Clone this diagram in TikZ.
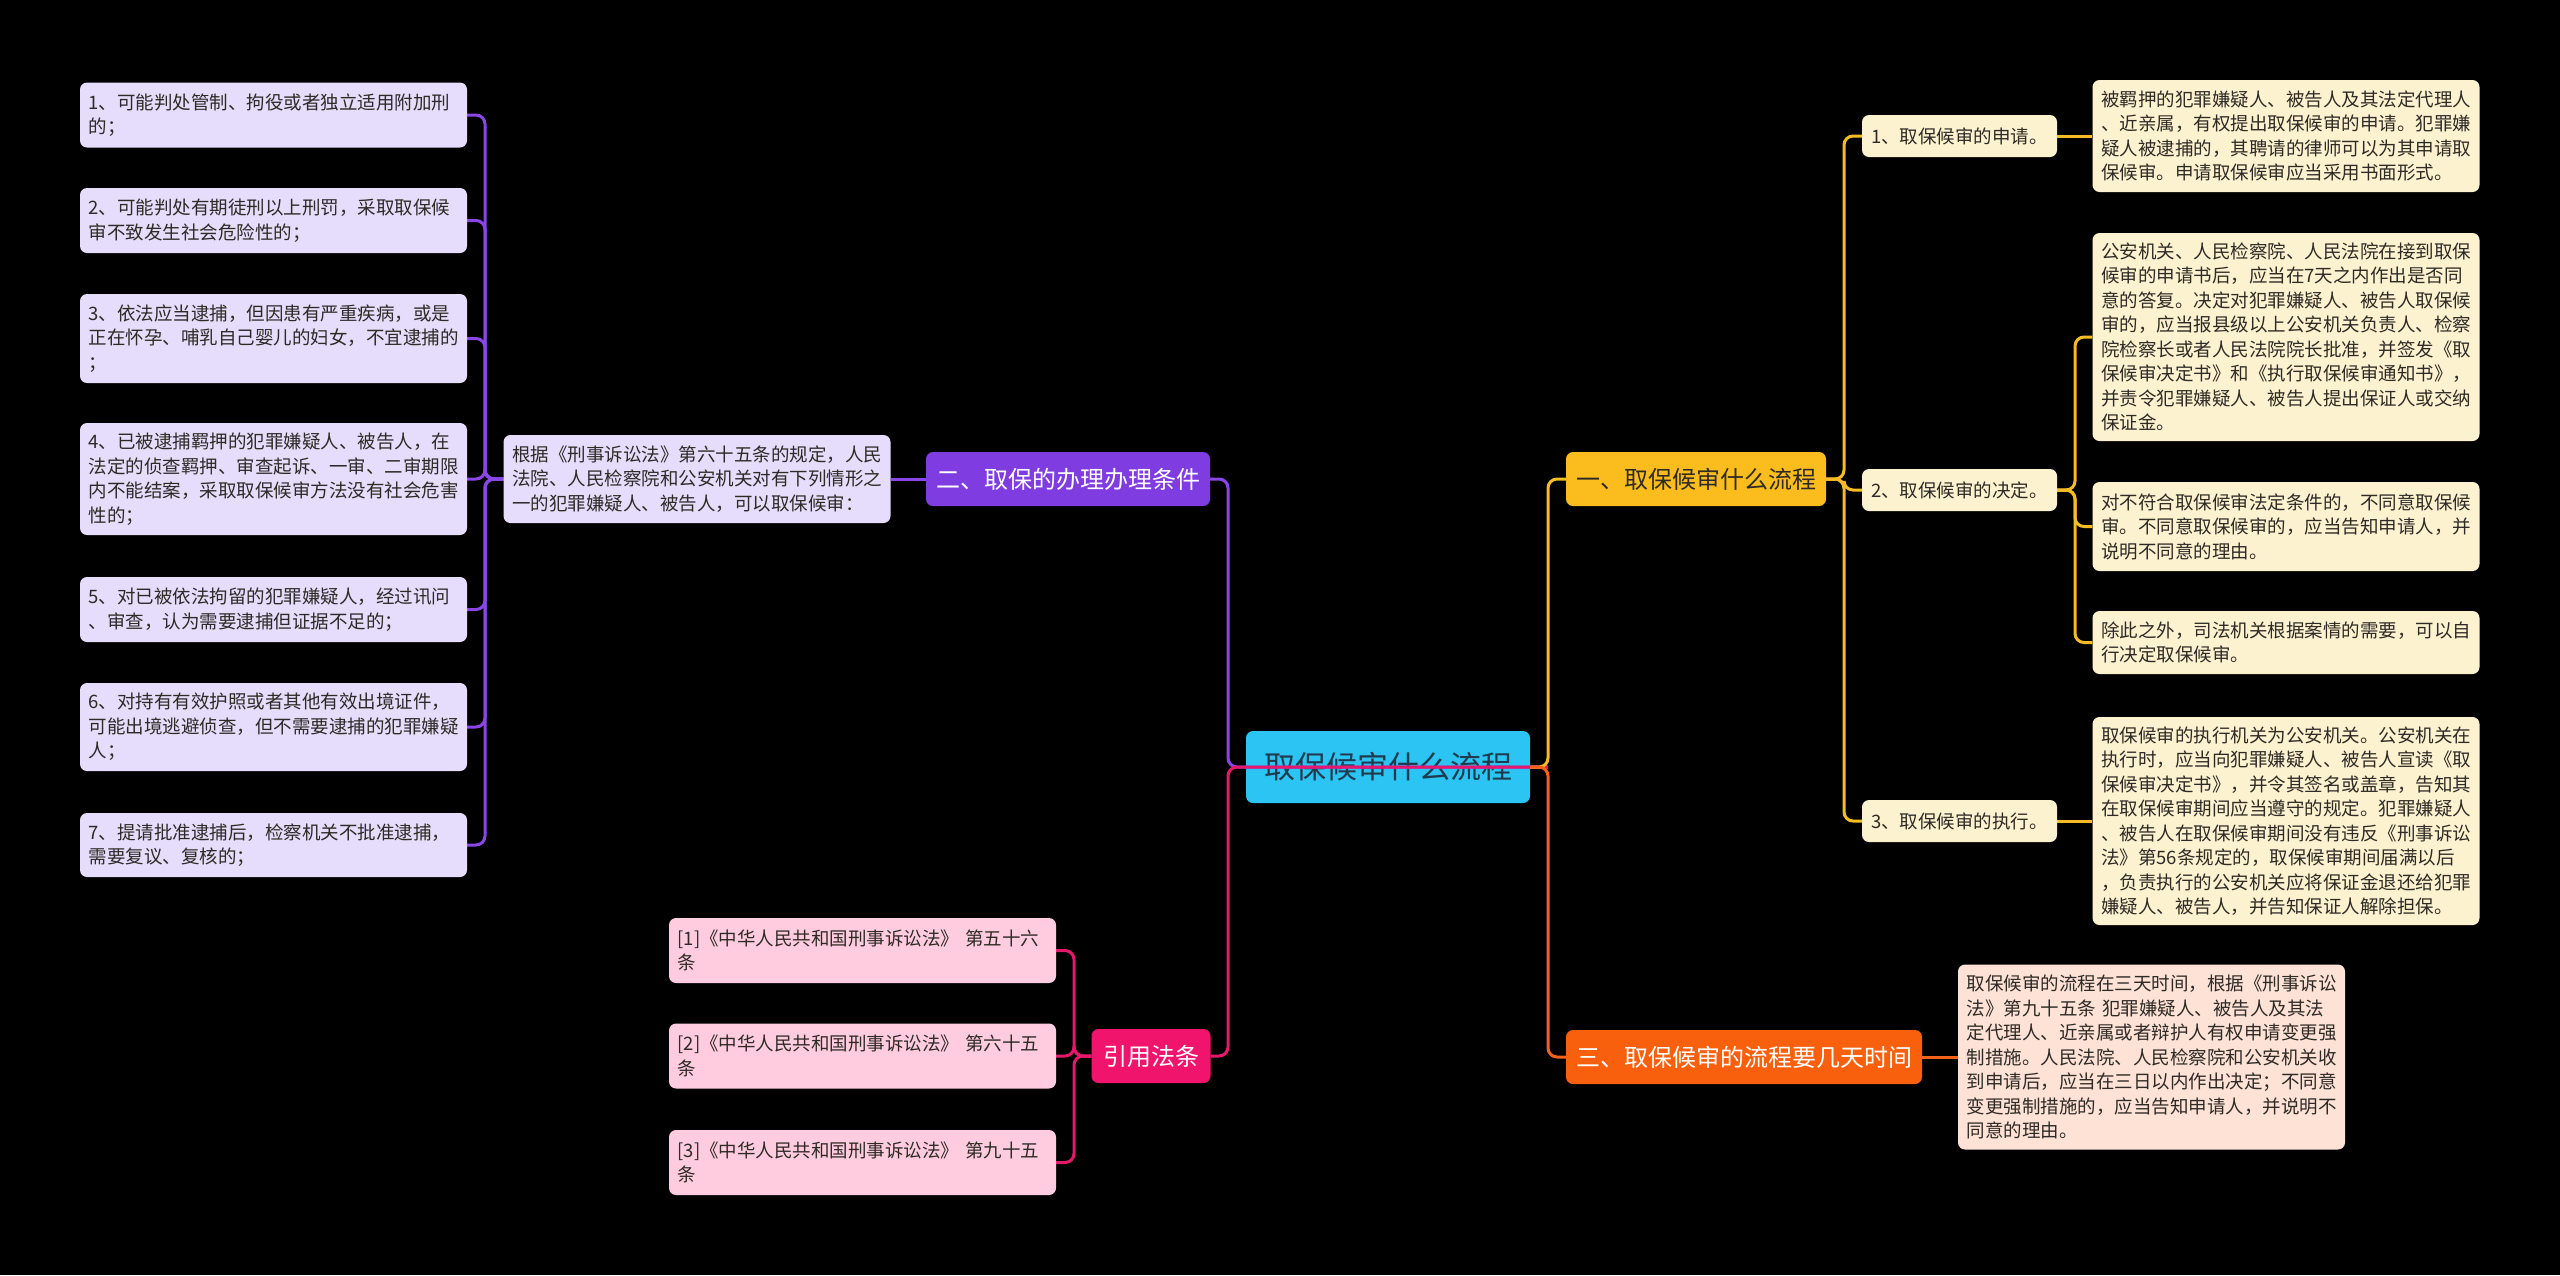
\documentclass[tikz,border=0pt]{standalone}
\usepackage{fontspec}
\setmainfont{Noto Sans CJK SC}
\pgfdeclarelayer{back}
\pgfdeclarelayer{mid}
\pgfsetlayers{back,mid,main}
\definecolor{cRoot}{HTML}{2BC4F3}
\definecolor{cRootT}{HTML}{1F3B4D}
\definecolor{cY}{HTML}{FBBD1E}
\definecolor{cYl}{HTML}{F6BC25}
\definecolor{cP}{HTML}{7F3CE0}
\definecolor{cPl}{HTML}{8A46E6}
\definecolor{cO}{HTML}{F9600E}
\definecolor{cOl}{HTML}{F2621A}
\definecolor{cM}{HTML}{F0146C}
\definecolor{cMl}{HTML}{E5186C}
\definecolor{fLav}{HTML}{E6DCFB}
\definecolor{fCream}{HTML}{FDF2CF}
\definecolor{fPeach}{HTML}{FDE2D5}
\definecolor{fPink}{HTML}{FFCCDF}
\definecolor{tDark}{HTML}{2E2A26}
\begin{document}
\begin{tikzpicture}[x=1pt,y=-1pt,
  conn/.style={line width=3pt, rounded corners=9pt},
  rootbox/.style={fill=cRoot, text=cRootT, rounded corners=7pt, minimum width=284pt, minimum height=72pt, inner sep=0pt, font=\fontsize{31}{36}\selectfont},
  topic/.style={rounded corners=7pt, minimum height=54pt, inner sep=0pt, font=\fontsize{24}{28}\selectfont},
  sub/.style={fill=fCream, text=tDark, rounded corners=7pt, minimum width=195pt, minimum height=42pt, inner sep=0pt, font=\fontsize{18.5}{24.5}\selectfont},
  leaf/.style={text=tDark, rounded corners=7pt, text width=370pt, align=left, inner xsep=8.5pt, inner ysep=0pt, font=\fontsize{18.5}{24.5}\selectfont}
]
\begin{pgfonlayer}{back}
\fill[black] (0,0) rectangle (2560,1275);
\node[rootbox] (root) at (1388,767) {取保候审什么流程};
\end{pgfonlayer}
\useasboundingbox (0,0) rectangle (2560,1275);

% level 1
\node[topic, fill=cY, text=tDark, minimum width=260pt] (yi) at (1696,479) {一、取保候审什么流程};
\node[topic, fill=cP, text=white, minimum width=284pt] (er) at (1068,479) {二、取保的办理办理条件};
\node[topic, fill=cO, text=white, minimum width=356pt] (san) at (1744,1057) {三、取保候审的流程要几天时间};
\node[topic, fill=cM, text=white, minimum width=119pt] (yin) at (1151,1056) {引用法条};

% right: branch one
\node[sub] (n1) at (1959.5,136) {1、取保候审的申请。};
\node[sub] (n2) at (1959.5,490) {2、取保候审的决定。};
\node[sub] (n3) at (1959.5,821) {3、取保候审的执行。};

\node[leaf, fill=fCream, minimum height=112pt] (A) at (2286,136) {被羁押的犯罪嫌疑人、被告人及其法定代理人\\、近亲属，有权提出取保候审的申请。犯罪嫌\\疑人被逮捕的，其聘请的律师可以为其申请取\\保候审。申请取保候审应当采用书面形式。};
\node[leaf, fill=fCream, minimum height=208pt] (B) at (2286,337) {公安机关、人民检察院、人民法院在接到取保\\候审的申请书后，应当在7天之内作出是否同\\意的答复。决定对犯罪嫌疑人、被告人取保候\\审的，应当报县级以上公安机关负责人、检察\\院检察长或者人民法院院长批准，并签发《取\\保候审决定书》和《执行取保候审通知书》，\\并责令犯罪嫌疑人、被告人提出保证人或交纳\\保证金。};
\node[leaf, fill=fCream, minimum height=89pt] (C) at (2286,526.5) {对不符合取保候审法定条件的，不同意取保候\\审。不同意取保候审的，应当告知申请人，并\\说明不同意的理由。};
\node[leaf, fill=fCream, minimum height=63pt] (D) at (2286,642.5) {除此之外，司法机关根据案情的需要，可以自\\行决定取保候审。};
\node[leaf, fill=fCream, minimum height=208pt] (E) at (2286,821) {取保候审的执行机关为公安机关。公安机关在\\执行时，应当向犯罪嫌疑人、被告人宣读《取\\保候审决定书》，并令其签名或盖章，告知其\\在取保候审期间应当遵守的规定。犯罪嫌疑人\\、被告人在取保候审期间没有违反《刑事诉讼\\法》第56条规定的，取保候审期间届满以后\\，负责执行的公安机关应将保证金退还给犯罪\\嫌疑人、被告人，并告知保证人解除担保。};

% right: branch three
\node[leaf, fill=fPeach, minimum height=185pt] (F) at (2151.5,1057) {取保候审的流程在三天时间，根据《刑事诉讼\\法》第九十五条 犯罪嫌疑人、被告人及其法\\定代理人、近亲属或者辩护人有权申请变更强\\制措施。人民法院、人民检察院和公安机关收\\到申请后，应当在三日以内作出决定；不同意\\变更强制措施的，应当告知申请人，并说明不\\同意的理由。};

% left: branch two
\node[leaf, fill=fLav, minimum height=88pt] (G) at (697,479) {根据《刑事诉讼法》第六十五条的规定，人民\\法院、人民检察院和公安机关对有下列情形之\\一的犯罪嫌疑人、被告人，可以取保候审：};
\node[leaf, fill=fLav, minimum height=65pt] (L1) at (273.5,115) {1、可能判处管制、拘役或者独立适用附加刑\\的；};
\node[leaf, fill=fLav, minimum height=65pt] (L2) at (273.5,220.5) {2、可能判处有期徒刑以上刑罚，采取取保候\\审不致发生社会危险性的；};
\node[leaf, fill=fLav, minimum height=89pt] (L3) at (273.5,338.5) {3、依法应当逮捕，但因患有严重疾病，或是\\正在怀孕、哺乳自己婴儿的妇女，不宜逮捕的\\；};
\node[leaf, fill=fLav, minimum height=112pt] (L4) at (273.5,479) {4、已被逮捕羁押的犯罪嫌疑人、被告人，在\\法定的侦查羁押、审查起诉、一审、二审期限\\内不能结案，采取取保候审方法没有社会危害\\性的；};
\node[leaf, fill=fLav, minimum height=65pt] (L5) at (273.5,609.5) {5、对已被依法拘留的犯罪嫌疑人，经过讯问\\、审查，认为需要逮捕但证据不足的；};
\node[leaf, fill=fLav, minimum height=88pt] (L6) at (273.5,727) {6、对持有有效护照或者其他有效出境证件，\\可能出境逃避侦查，但不需要逮捕的犯罪嫌疑\\人；};
\node[leaf, fill=fLav, minimum height=64pt] (L7) at (273.5,845) {7、提请批准逮捕后，检察机关不批准逮捕，\\需要复议、复核的；};

% left: references
\node[leaf, fill=fPink, minimum height=65pt] (R1) at (862.5,950.5) {{[1]}《中华人民共和国刑事诉讼法》 第五十六\\条};
\node[leaf, fill=fPink, minimum height=65pt] (R2) at (862.5,1056) {{[2]}《中华人民共和国刑事诉讼法》 第六十五\\条};
\node[leaf, fill=fPink, minimum height=65pt] (R3) at (862.5,1162.5) {{[3]}《中华人民共和国刑事诉讼法》 第九十五\\条};

% junction coordinates
\coordinate (jL) at (1228,767);
\coordinate (jR) at (1548,767);
\coordinate (jY) at (1844,0);
\coordinate (jD) at (2075,0);
\coordinate (jG) at (485,0);
\coordinate (jQ) at (1074,0);

\begin{pgfonlayer}{mid}
% main branches
\draw[conn, cPl] (jR) -- (jL) |- (er.east);
\draw[conn, cMl] (jR) -- (jL) |- (yin.east);
\draw[conn, cYl] (root.east) -- (jR) |- (yi.west);
\draw[conn, cOl] (root.east) -- (jR) |- (san.west);
% branch one
\draw[conn, cYl] (yi.east) -- (yi.east -| jY) |- (n1.west);
\draw[conn, cYl] (yi.east) -- (yi.east -| jY) |- (n2.west);
\draw[conn, cYl] (yi.east) -- (yi.east -| jY) |- (n3.west);
\draw[conn, cYl] (n1.east) -- (A.west);
\draw[conn, cYl] (n2.east) -- (n2.east -| jD) |- (B.west);
\draw[conn, cYl] (n2.east) -- (n2.east -| jD) |- (C.west);
\draw[conn, cYl] (n2.east) -- (n2.east -| jD) |- (D.west);
\draw[conn, cYl] (n3.east) -- (E.west);
% branch three
\draw[conn, cOl] (san.east) -- (F.west);
% branch two
\draw[conn, cPl] (er.west) -- (G.east);
\foreach \n in {L1,L2,L3,L4,L5,L6,L7}
  \draw[conn, cPl] (G.west) -- (G.west -| jG) |- (\n.east);
% references
\foreach \n in {R1,R2,R3}
  \draw[conn, cMl] (yin.west) -- (yin.west -| jQ) |- (\n.east);
\end{pgfonlayer}
\end{tikzpicture}
\end{document}
